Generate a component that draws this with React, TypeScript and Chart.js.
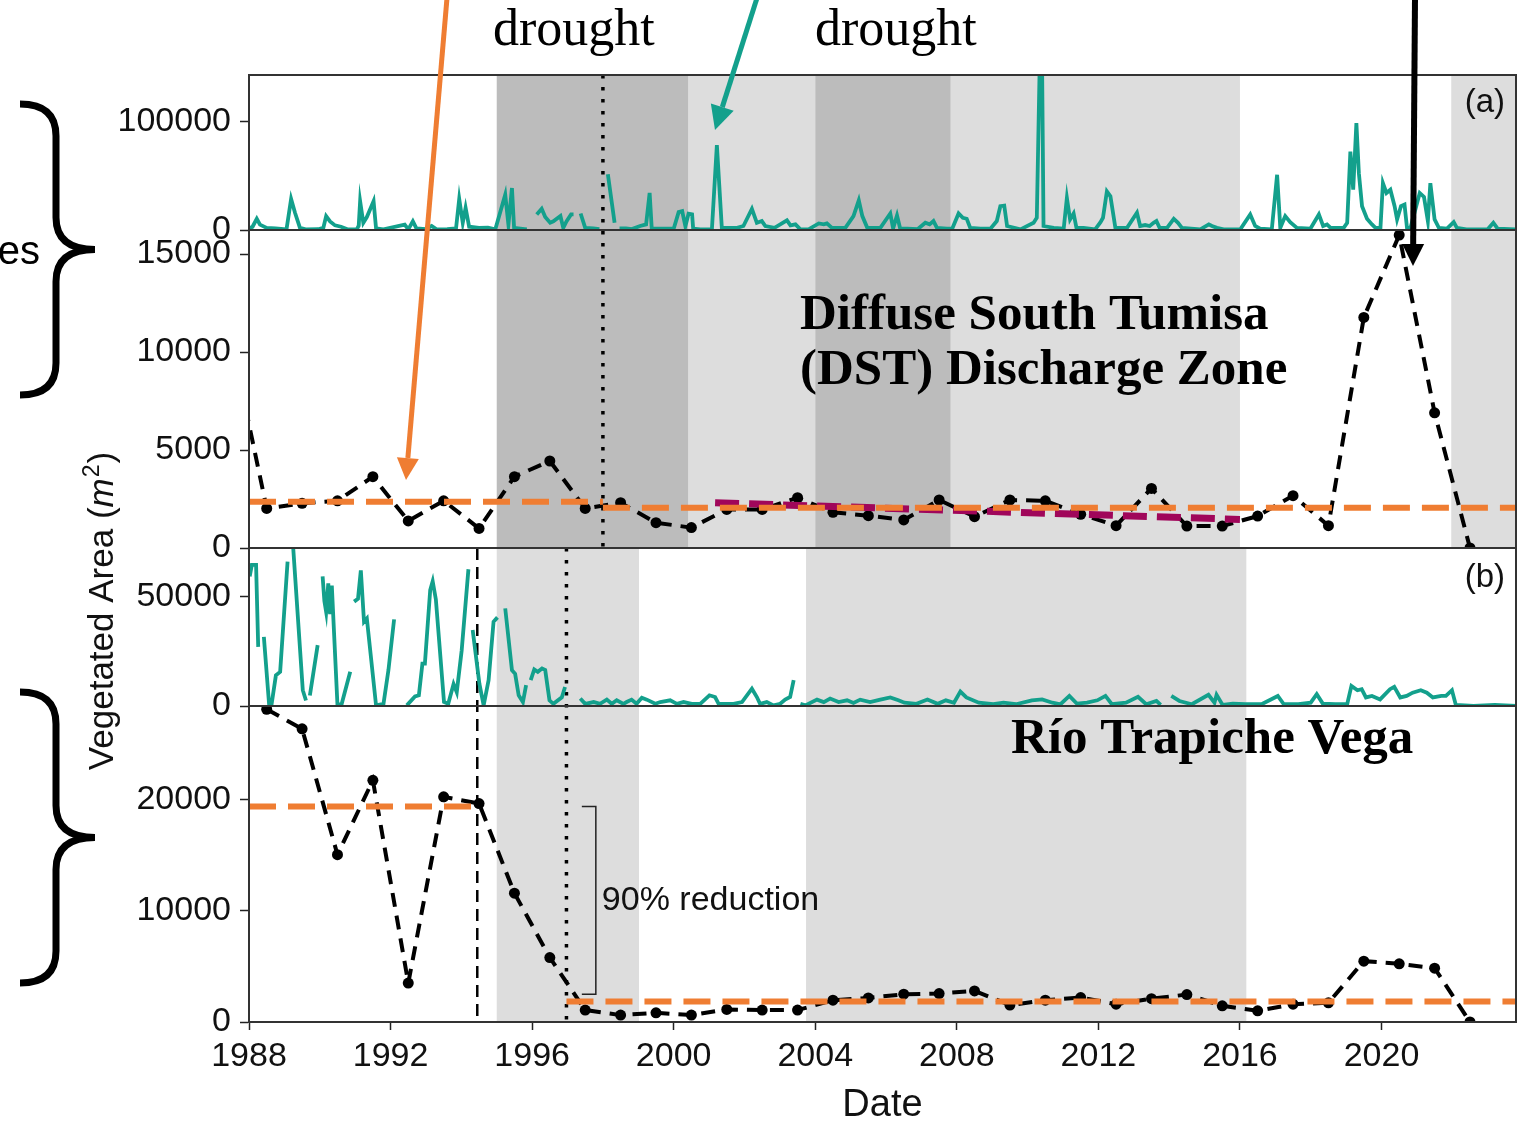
import React, { useEffect, useRef } from 'react';
import { Chart, registerables } from 'chart.js';

Chart.register(...registerables);

// ---------------- data ----------------
const X_MIN = 1988;
const X_MAX = 2023.8;
const xTicks = [1988, 1992, 1996, 2000, 2004, 2008, 2012, 2016, 2020];
const yTicksFlowA = [0, 100000];
const yTicksAreaA = [0, 5000, 10000, 15000];
const yTicksFlowB = [0, 50000];
const yTicksAreaB = [0, 10000, 20000];

type P = [number, number] | null;

// (a) upper: discharge series (teal)
const flowA: P[] = [
  [1988.02, 1500], [1988.1, 3000], [1988.22, 10400], [1988.31, 5000], [1988.5, 2000], [1988.75, 1500],
  [1989.06, 600], [1989.19, 28800], [1989.3, 16000], [1989.44, 2000], [1989.6, 600], [1989.95, 700],
  [1990.1, 2000], [1990.18, 12900], [1990.29, 8000], [1990.43, 4300], [1990.6, 3000], [1990.8, 500],
  [1991.05, 800], [1991.1, 4000], [1991.14, 26600], [1991.23, 6700], [1991.33, 12000], [1991.52, 26600],
  [1991.59, 1500], [1991.8, 600], [1992.4, 5000], [1992.5, 600], [1992.63, 8000], [1992.73, 1500],
  [1993.0, 900], [1993.16, 3700], [1993.3, 600], [1993.6, 900], [1993.85, 1500], [1993.94, 28800],
  [1994.04, 6700], [1994.12, 20500], [1994.22, 3000], [1994.5, 2000], [1994.75, 2200], [1994.96, 600],
  [1995.24, 32700], [1995.33, 5000], [1995.43, 38900], [1995.49, 2000], [1995.85, 600],
  null,
  [1996.13, 14400], [1996.27, 19600], [1996.37, 12000], [1996.51, 6700], [1996.6, 8000], [1996.8, 13000],
  [1996.88, 2000], [1996.97, 8000], [1997.1, 14400], [1997.17, 14400],
  null,
  [1997.37, 15300], [1997.5, 2000], [1997.73, 1500], [1997.9, 800],
  null,
  [1998.14, 51700], [1998.33, 6700],
  null,
  [1998.47, 1500], [1998.65, 1500], [1998.82, 800], [1999.05, 3700], [1999.22, 5200], [1999.32, 34300],
  [1999.38, 1200], [1999.6, 1200], [2000.0, 1200], [2000.14, 16500], [2000.24, 17400], [2000.33, 3500],
  [2000.42, 15000], [2000.52, 14400], [2000.55, 1200], [2000.75, 600], [2001.08, 600], [2001.22, 78600],
  [2001.36, 2000], [2001.79, 2000], [2001.97, 3700], [2002.21, 19600], [2002.35, 6700], [2002.49, 8300],
  [2002.59, 3700], [2002.85, 2000], [2003.2, 8900], [2003.3, 4300], [2003.44, 5200], [2003.58, 600],
  [2003.81, 600], [2004.1, 6100], [2004.24, 5200], [2004.33, 6100], [2004.47, 2000], [2004.85, 2000],
  [2005.08, 12900], [2005.23, 27500], [2005.33, 12900], [2005.47, 2000], [2005.84, 2000], [2006.12, 15300],
  [2006.2, 1500], [2006.31, 13500], [2006.4, 1200], [2006.6, 1200], [2006.9, 900], [2007.11, 6700],
  [2007.23, 5200], [2007.34, 8300], [2007.44, 2000], [2007.72, 1200], [2007.87, 1200], [2008.05, 15300],
  [2008.17, 11300], [2008.28, 10400], [2008.38, 2000], [2008.67, 1200], [2008.95, 1200], [2009.13, 8300],
  [2009.23, 22000], [2009.34, 22600], [2009.42, 3700], [2009.8, 600], [2010.17, 6700], [2010.26, 11300],
  [2010.34, 150000], [2010.41, 150000], [2010.45, 3700], [2010.74, 2000], [2011.02, 1200], [2011.11, 29700],
  [2011.2, 9800], [2011.3, 15300], [2011.38, 2000], [2011.58, 2000], [2011.91, 600], [2012.06, 7300],
  [2012.13, 11300], [2012.24, 35800], [2012.34, 31200], [2012.48, 2000], [2012.81, 2000], [2013.09, 16000],
  [2013.18, 3700], [2013.32, 4600], [2013.45, 3700], [2013.56, 6700], [2013.64, 8300], [2013.73, 2000],
  [2013.94, 2000], [2014.13, 10400], [2014.25, 6700], [2014.36, 2000], [2014.88, 600], [2015.12, 5200],
  [2015.21, 3700], [2015.35, 2000], [2015.54, 600], [2016.01, 600], [2016.29, 14400], [2016.43, 3700],
  [2016.57, 1200], [2016.9, 600], [2017.05, 51100], [2017.14, 2000], [2017.28, 12900], [2017.42, 7300],
  [2017.61, 2000], [2017.99, 1200], [2018.23, 14400], [2018.35, 3700], [2018.46, 5200], [2018.56, 2000],
  [2018.93, 2000], [2019.03, 6700], [2019.12, 72500], [2019.2, 37300], [2019.29, 99000], [2019.36, 52600],
  [2019.45, 22000], [2019.59, 10400], [2019.73, 5200], [2019.83, 2000], [2019.97, 2000], [2020.04, 43400],
  [2020.14, 34300], [2020.25, 37300], [2020.37, 22000], [2020.44, 9800], [2020.55, 22000], [2020.65, 23500],
  [2020.72, 2000], [2020.82, 2000], [2021.08, 34300], [2021.2, 30600], [2021.31, 8300], [2021.38, 43400],
  [2021.5, 9800], [2021.62, 2000], [2021.85, 1200], [2022.04, 7300], [2022.13, 2000], [2022.4, 600],
  [2023.0, 600], [2023.16, 6700], [2023.28, 1200], [2023.8, 600],
];

// (b) upper: discharge series (teal)
const flowB: P[] = [
  [1988.02, 59200], [1988.08, 64500], [1988.2, 64500], [1988.26, 27000],
  null,
  [1988.42, 31600], [1988.57, 300], [1988.64, 1000], [1988.76, 14000], [1988.88, 15600], [1989.09, 66000],
  null,
  [1989.25, 72000], [1989.52, 7200], [1989.61, 2500],
  null,
  [1989.72, 4800], [1989.94, 27800],
  null,
  [1990.08, 59200], [1990.13, 48000], [1990.18, 43000], [1990.24, 56000], [1990.29, 42000], [1990.34, 55000],
  [1990.5, 300], [1990.62, 1000], [1990.86, 15600],
  null,
  [1990.97, 47700], [1991.08, 49000], [1991.16, 62000], [1991.25, 38500], [1991.33, 40000], [1991.59, 300],
  [1991.8, 1000], [1991.94, 16400], [1992.1, 39600],
  null,
  [1992.46, 300], [1992.69, 4400], [1992.8, 4900], [1992.9, 19400], [1992.97, 19400], [1993.12, 53000],
  [1993.19, 57000], [1993.28, 48700], [1993.51, 1800], [1993.63, 1000], [1993.78, 10000], [1993.87, 6300],
  [1994.01, 25500], [1994.2, 62500],
  null,
  [1994.32, 34700], [1994.51, 10200], [1994.63, 300], [1994.77, 11800], [1994.91, 38500], [1995.02, 40500],
  null,
  [1995.24, 44600], [1995.43, 16400], [1995.52, 14700], [1995.62, 4900], [1995.74, 1800], [1995.83, 9500],
  null,
  [1995.96, 11800], [1996.06, 16700], [1996.16, 15600], [1996.28, 17100], [1996.37, 16400], [1996.49, 2600],
  [1996.6, 1000], [1996.84, 4000], [1996.93, 8700],
  null,
  [1997.36, 3400], [1997.5, 1000], [1997.74, 1800], [1997.92, 1000], [1998.11, 2900], [1998.25, 1000],
  [1998.39, 2600], [1998.58, 1000], [1998.67, 1800], [1998.81, 2900], [1998.95, 1000], [1999.1, 3800],
  [1999.24, 2900], [1999.48, 1000], [1999.62, 1800], [1999.9, 2600], [2000.09, 1000], [2000.28, 1800],
  [2000.51, 1000], [2000.75, 1000], [2001.01, 4900], [2001.17, 4100], [2001.27, 1000], [2001.69, 1000],
  [2001.93, 1800], [2002.21, 7900], [2002.35, 4100], [2002.44, 1000], [2002.63, 1800], [2002.82, 300],
  [2003.01, 1000], [2003.15, 2900], [2003.29, 4100], [2003.39, 11800],
  null,
  [2003.58, 1000], [2003.72, 300], [2004.05, 2900], [2004.24, 1800], [2004.42, 3400], [2004.66, 1800],
  [2004.9, 2600], [2005.08, 1400], [2005.27, 2900], [2005.55, 1800], [2005.84, 2900], [2006.12, 3900],
  [2006.35, 2600], [2006.52, 1500], [2006.86, 1000], [2007.17, 3000], [2007.46, 1000], [2007.69, 2600],
  [2007.92, 1500], [2008.1, 6600], [2008.27, 3900], [2008.62, 1500], [2009.03, 800], [2009.32, 1500],
  [2009.67, 800], [2010.12, 2600], [2010.41, 3000], [2010.7, 1500], [2010.93, 800], [2011.18, 4600],
  [2011.39, 1100], [2011.68, 1500], [2011.97, 2600], [2012.2, 4600], [2012.38, 800], [2012.78, 1500],
  [2013.12, 4200], [2013.35, 800], [2013.64, 2300], [2013.76, 500],
  null,
  [2014.06, 4600], [2014.29, 2300], [2014.64, 800], [2015.11, 5100], [2015.28, 1500], [2015.34, 5100],
  [2015.51, 500], [2015.8, 1100], [2016.15, 800], [2016.61, 800], [2017.07, 4600], [2017.24, 800],
  [2017.65, 800], [2018.0, 1500], [2018.17, 5400], [2018.34, 1100], [2018.69, 800], [2019.03, 800],
  [2019.15, 9200], [2019.32, 7200], [2019.44, 7700], [2019.56, 3900], [2019.73, 4600], [2019.96, 3000],
  [2020.24, 7700], [2020.36, 8800], [2020.53, 3900], [2020.71, 4600], [2020.88, 6100], [2021.11, 7200],
  [2021.28, 6100], [2021.45, 3900], [2021.69, 4600], [2021.82, 4600], [2021.99, 7200], [2022.1, 500],
  [2022.6, 0], [2023.2, 500], [2023.8, 0],
];

// (a) lower: DST vegetated area
const dstYears = [1987.5, 1988.5, 1989.5, 1990.5, 1991.5, 1992.5, 1993.5, 1994.5, 1995.5, 1996.5, 1997.5,
  1998.5, 1999.5, 2000.5, 2001.5, 2002.5, 2003.5, 2004.5, 2005.5, 2006.5, 2007.5, 2008.5, 2009.5, 2010.5,
  2011.5, 2012.5, 2013.5, 2014.5, 2015.5, 2016.5, 2017.5, 2018.5, 2019.5, 2020.5, 2021.5, 2022.5];
const dstArea = [10600, 2020, 2280, 2410, 3640, 1380, 2410, 1000, 3640, 4440, 2020,
  2310, 1290, 1040, 1970, 1970, 2570, 1820, 1650, 1430, 2450, 1600, 2450, 2410,
  1720, 1140, 3040, 1120, 1120, 1630, 2670, 1140, 11770, 15970, 6900, 0];

// (b) lower: Río Trapiche vegetated area
const rtvYears = [1988.5, 1989.5, 1990.5, 1991.5, 1992.5, 1993.5, 1994.5, 1995.5, 1996.5, 1997.5,
  1998.5, 1999.5, 2000.5, 2001.5, 2002.5, 2003.5, 2004.5, 2005.5, 2006.5, 2007.5, 2008.5, 2009.5, 2010.5,
  2011.5, 2012.5, 2013.5, 2014.5, 2015.5, 2016.5, 2017.5, 2018.5, 2019.5, 2020.5, 2021.5, 2022.5];
const rtvArea = [28150, 26400, 15060, 21760, 3500, 20270, 19670, 11600, 5800, 1070,
  620, 830, 620, 1130, 1070, 1070, 1960, 2170, 2500, 2560, 2800, 1520, 1960,
  2200, 1600, 2100, 2470, 1460, 1010, 1600, 1730, 5480, 5240, 4850, 0];

// means and trend
const dstMeanBefore = { from: 1988, to: 1998, value: 2360 };
const dstMeanAfter = { from: 1998, to: 2023.8, value: 2060 };
const dstTrend = [[2001.17, 2310], [2016.0, 1460]];
const rtvMeanBefore = { from: 1988, to: 1994.45, value: 19400 };
const rtvMeanAfter = { from: 1996.97, to: 2023.8, value: 1850 };

// shaded periods
const shadeA = [
  { from: 1995.0, to: 2000.42, dark: true },
  { from: 2000.42, to: 2004.0, dark: false },
  { from: 2004.0, to: 2007.83, dark: true },
  { from: 2007.83, to: 2016.0, dark: false },
  { from: 2021.97, to: 2023.8, dark: false },
];
const shadeB = [
  { from: 1995.0, to: 1999.02, dark: false },
  { from: 2003.74, to: 2016.18, dark: false },
];
const breakA = 1998.0;
const breakBDashed = 1994.45;
const breakBDotted = 1996.97;
const reduction = { year: 1997.8, top: 19400, bottom: 2500, label: '90% reduction', labelValue: 10900 };

// ---------------- styles ----------------
const TEAL = '#13a08c';
const ORANGE = '#ef7d32';
const MAROON = '#a0065a';
const DARK = '#bcbcbc';
const LIGHT = '#dddddd';
const SANS = '"Liberation Sans", Arial, sans-serif';
const SERIF = '"Liberation Serif", "DejaVu Serif", serif';

function toPoints(list: P[]) {
  const out: { x: number; y: number | null }[] = [];
  for (let i = 0; i < list.length; i++) {
    const p = list[i];
    if (p) out.push({ x: p[0], y: p[1] });
    else {
      const a = list[i - 1] as [number, number];
      const b = list[i + 1] as [number, number];
      out.push({ x: (a[0] + b[0]) / 2, y: null });
    }
  }
  return out;
}
const zipXY = (xs: number[], ys: number[]) => xs.map((x, i) => ({ x, y: ys[i] }));
const seg = (m: { from: number; to: number; value: number }) => [{ x: m.from, y: m.value }, { x: m.to, y: m.value }];

function arrow(ctx: CanvasRenderingContext2D, x1: number, y1: number, x2: number, y2: number, color: string, w: number, head: number) {
  const ang = Math.atan2(y2 - y1, x2 - x1);
  const bx = x2 - head * Math.cos(ang);
  const by = y2 - head * Math.sin(ang);
  ctx.strokeStyle = color;
  ctx.fillStyle = color;
  ctx.lineWidth = w;
  ctx.setLineDash([]);
  ctx.beginPath();
  ctx.moveTo(x1, y1);
  ctx.lineTo(bx, by);
  ctx.stroke();
  ctx.beginPath();
  ctx.moveTo(x2, y2);
  ctx.lineTo(bx + head * 0.5 * Math.sin(ang), by - head * 0.5 * Math.cos(ang));
  ctx.lineTo(bx - head * 0.5 * Math.sin(ang), by + head * 0.5 * Math.cos(ang));
  ctx.closePath();
  ctx.fill();
}

function brace(ctx: CanvasRenderingContext2D, x0: number, top: number, bottom: number, xm: number, xt: number) {
  const mid = (top + bottom) / 2;
  const r = 32;
  ctx.beginPath();
  ctx.moveTo(x0, top);
  ctx.quadraticCurveTo(xm, top, xm, top + r);
  ctx.lineTo(xm, mid - r);
  ctx.quadraticCurveTo(xm, mid, xt, mid);
  ctx.quadraticCurveTo(xm, mid, xm, mid + r);
  ctx.lineTo(xm, bottom - r);
  ctx.quadraticCurveTo(xm, bottom, x0, bottom);
  ctx.stroke();
}

const overlayPlugin = {
  id: 'overlay',
  beforeDatasetsDraw(chart: any) {
    const { ctx, scales } = chart;
    const x = scales.x;
    ctx.save();
    const shade = (list: any[], top: number, bottom: number) => {
      list.forEach((s) => {
        const x1 = x.getPixelForValue(s.from);
        const x2 = x.getPixelForValue(s.to);
        ctx.fillStyle = s.dark ? DARK : LIGHT;
        ctx.fillRect(x1, top, x2 - x1, bottom - top);
      });
    };
    shade(shadeA, scales.yA1.top, scales.yA2.bottom);
    shade(shadeB, scales.yB1.top, scales.yB2.bottom);

    const vline = (v: number, top: number, bottom: number, dash: number[], w: number) => {
      const px = x.getPixelForValue(v);
      ctx.strokeStyle = '#000';
      ctx.lineWidth = w;
      ctx.setLineDash(dash);
      ctx.beginPath();
      ctx.moveTo(px, top);
      ctx.lineTo(px, bottom);
      ctx.stroke();
    };
    vline(breakA, scales.yA1.top, scales.yA2.bottom, [3.5, 8.5], 3.5);
    vline(breakBDashed, scales.yB1.top, scales.yB2.bottom, [12, 7], 2.5);
    vline(breakBDotted, scales.yB1.top, scales.yB2.bottom, [3.5, 8.5], 3.5);
    ctx.restore();
  },
  afterDatasetsDraw(chart: any) {
    const { ctx, scales, chartArea } = chart;
    const x = scales.x;
    ctx.save();
    // reduction bracket
    const bx = x.getPixelForValue(reduction.year);
    const yb = scales.yB2;
    const t = yb.getPixelForValue(reduction.top);
    const b = yb.getPixelForValue(reduction.bottom);
    ctx.strokeStyle = '#222';
    ctx.lineWidth = 1.5;
    ctx.setLineDash([]);
    ctx.beginPath();
    ctx.moveTo(bx - 14, t);
    ctx.lineTo(bx, t);
    ctx.lineTo(bx, b);
    ctx.lineTo(bx - 14, b);
    ctx.stroke();
    ctx.fillStyle = '#111';
    ctx.font = `34px ${SANS}`;
    ctx.textAlign = 'left';
    ctx.textBaseline = 'middle';
    ctx.fillText(reduction.label, bx + 6, yb.getPixelForValue(reduction.labelValue));

    // panel frames
    ctx.strokeStyle = '#333';
    ctx.lineWidth = 2;
    ['yA1', 'yA2', 'yB1', 'yB2'].forEach((id) => {
      const s = scales[id];
      ctx.strokeRect(chartArea.left, s.top, chartArea.right - chartArea.left, s.bottom - s.top);
    });
    ctx.restore();
  },
  afterDraw(chart: any) {
    const { ctx } = chart;
    ctx.save();
    ctx.setLineDash([]);
    // panel tags
    ctx.fillStyle = '#111';
    ctx.font = `33px ${SANS}`;
    ctx.textAlign = 'right';
    ctx.textBaseline = 'middle';
    ctx.fillText('(a)', 1505, 103);
    ctx.fillText('(b)', 1505, 578);

    // y-axis title
    ctx.save();
    ctx.translate(113, 612);
    ctx.rotate(-Math.PI / 2);
    ctx.textBaseline = 'alphabetic';
    ctx.textAlign = 'left';
    const p1 = 'Vegetated Area (';
    const p2 = 'm';
    const p3 = '2';
    const p4 = ')';
    const fN = `35px ${SANS}`;
    const fI = `italic 35px ${SANS}`;
    const fS = `23px ${SANS}`;
    ctx.font = fN; const w1 = ctx.measureText(p1).width; const w4 = ctx.measureText(p4).width;
    ctx.font = fI; const w2 = ctx.measureText(p2).width;
    ctx.font = fS; const w3 = ctx.measureText(p3).width;
    let cx = -(w1 + w2 + w3 + w4) / 2;
    ctx.font = fN; ctx.fillText(p1, cx, 0); cx += w1;
    ctx.font = fI; ctx.fillText(p2, cx, 0); cx += w2;
    ctx.font = fS; ctx.fillText(p3, cx + 1, -14); cx += w3 + 2;
    ctx.font = fN; ctx.fillText(p4, cx, 0);
    ctx.restore();

    // large labels
    ctx.fillStyle = '#000';
    ctx.textAlign = 'left';
    ctx.textBaseline = 'alphabetic';
    ctx.font = `bold 50px ${SERIF}`;
    const w = ctx.measureText('Diffuse South Tumisa').width;
    const size = Math.round(50 * 465 / w);
    ctx.font = `bold ${size}px ${SERIF}`;
    ctx.fillText('Diffuse South Tumisa', 800, 329);
    ctx.fillText('(DST) Discharge Zone', 800, 384);
    ctx.fillText('Río Trapiche Vega', 1011, 753);

    ctx.font = `50px ${SERIF}`;
    const wd = ctx.measureText('drought').width;
    const sd = Math.round(50 * 162 / wd);
    ctx.font = `${sd}px ${SERIF}`;
    ctx.fillText('drought', 493, 45);
    ctx.fillText('drought', 815, 45);

    ctx.font = `40px ${SANS}`;
    ctx.textAlign = 'right';
    ctx.fillText('es', 40, 264);

    // braces
    ctx.strokeStyle = '#000';
    ctx.lineWidth = 7;
    ctx.lineCap = 'butt';
    brace(ctx, 20, 104, 395, 56, 95);
    brace(ctx, 20, 692, 983, 56, 95);

    // arrows
    arrow(ctx, 447, -2, 406, 480, ORANGE, 5, 22);
    arrow(ctx, 757, -2, 715, 130, TEAL, 5, 24);
    arrow(ctx, 1415, -2, 1413, 266, '#000', 6, 22);
    ctx.restore();
  },
};

const tickFont = { family: SANS, size: 34 };

function yAxis(min: number, max: number, ticks: number[], weight: number, stackWeight: number) {
  return {
    type: 'linear' as const,
    position: 'left' as const,
    stack: 'panels',
    stackWeight,
    weight,
    min,
    max,
    afterBuildTicks: (s: any) => { s.ticks = ticks.map((v) => ({ value: v })); },
    afterFit: (s: any) => { s.width = 249; },
    ticks: { font: tickFont, color: '#111', padding: 9, callback: (v: any) => String(v), autoSkip: false },
    grid: { display: true, drawOnChartArea: false, drawTicks: true, tickLength: 9, tickWidth: 1.5, tickColor: '#222' },
    border: { display: true, color: '#333', width: 2 },
  };
}

export default function App() {
  const ref = useRef<HTMLCanvasElement | null>(null);
  useEffect(() => {
    if (!ref.current) return;
    const lineBase = { pointRadius: 0, tension: 0, spanGaps: false, fill: false, xAxisID: 'x' };
    const chart = new Chart(ref.current, {
      type: 'line',
      data: {
        datasets: [
          { ...lineBase, label: 'flowA', data: toPoints(flowA), yAxisID: 'yA1', borderColor: TEAL, borderWidth: 3.8 },
          { ...lineBase, label: 'flowB', data: toPoints(flowB), yAxisID: 'yB1', borderColor: TEAL, borderWidth: 3.8 },
          { ...lineBase, label: 'dstMean1', data: seg(dstMeanBefore), yAxisID: 'yA2', borderColor: ORANGE, borderWidth: 6, borderDash: [27, 12] },
          { ...lineBase, label: 'dstMean2', data: seg(dstMeanAfter), yAxisID: 'yA2', borderColor: ORANGE, borderWidth: 6, borderDash: [27, 12] },
          { ...lineBase, label: 'rtvMean1', data: seg(rtvMeanBefore), yAxisID: 'yB2', borderColor: ORANGE, borderWidth: 6, borderDash: [27, 12] },
          { ...lineBase, label: 'rtvMean2', data: seg(rtvMeanAfter), yAxisID: 'yB2', borderColor: ORANGE, borderWidth: 6, borderDash: [27, 12] },
          { ...lineBase, label: 'dstTrend', data: dstTrend.map(([x, y]) => ({ x, y })), yAxisID: 'yA2', borderColor: MAROON, borderWidth: 7, borderDash: [24, 10] },
          { ...lineBase, label: 'dst', data: zipXY(dstYears, dstArea), yAxisID: 'yA2', borderColor: '#000', borderWidth: 4, borderDash: [14, 9], pointRadius: 5.5, pointBackgroundColor: '#000', pointBorderWidth: 0 },
          { ...lineBase, label: 'rtv', data: zipXY(rtvYears, rtvArea), yAxisID: 'yB2', borderColor: '#000', borderWidth: 4, borderDash: [14, 9], pointRadius: 5.5, pointBackgroundColor: '#000', pointBorderWidth: 0 },
        ] as any,
      },
      options: {
        responsive: false,
        animation: false,
        devicePixelRatio: 1,
        events: [],
        layout: { padding: { top: 75, right: 21, bottom: 0, left: 0 } },
        plugins: { legend: { display: false }, tooltip: { enabled: false } },
        scales: {
          x: {
            type: 'linear',
            position: 'bottom',
            min: X_MIN,
            max: X_MAX,
            afterBuildTicks: (s: any) => { s.ticks = xTicks.map((v) => ({ value: v })); },
            afterFit: (s: any) => { s.height = 110; },
            ticks: { font: tickFont, color: '#111', padding: 6, maxRotation: 0, autoSkip: false, callback: (v: any) => String(v) },
            grid: { display: true, drawOnChartArea: false, drawTicks: true, tickLength: 8, tickWidth: 1.5, tickColor: '#222' },
            border: { display: true, color: '#333', width: 2 },
            title: { display: true, text: 'Date', color: '#111', font: { family: SANS, size: 38 }, padding: { top: 0, bottom: 4 } },
          },
          yA1: yAxis(0, 143500, yTicksFlowA, 4, 155),
          yA2: yAxis(0, 16230, yTicksAreaA, 3, 318),
          yB1: yAxis(0, 72200, yTicksFlowB, 2, 158),
          yB2: yAxis(0, 28450, yTicksAreaB, 1, 316),
        } as any,
      },
      plugins: [overlayPlugin],
    });
    return () => chart.destroy();
  }, []);
  return (
    <div style={{ position: 'absolute', left: 0, top: 0, width: 1537, height: 1132, background: '#fff' }}>
      <canvas ref={ref} width={1537} height={1132} style={{ display: 'block' }} />
    </div>
  );
}
